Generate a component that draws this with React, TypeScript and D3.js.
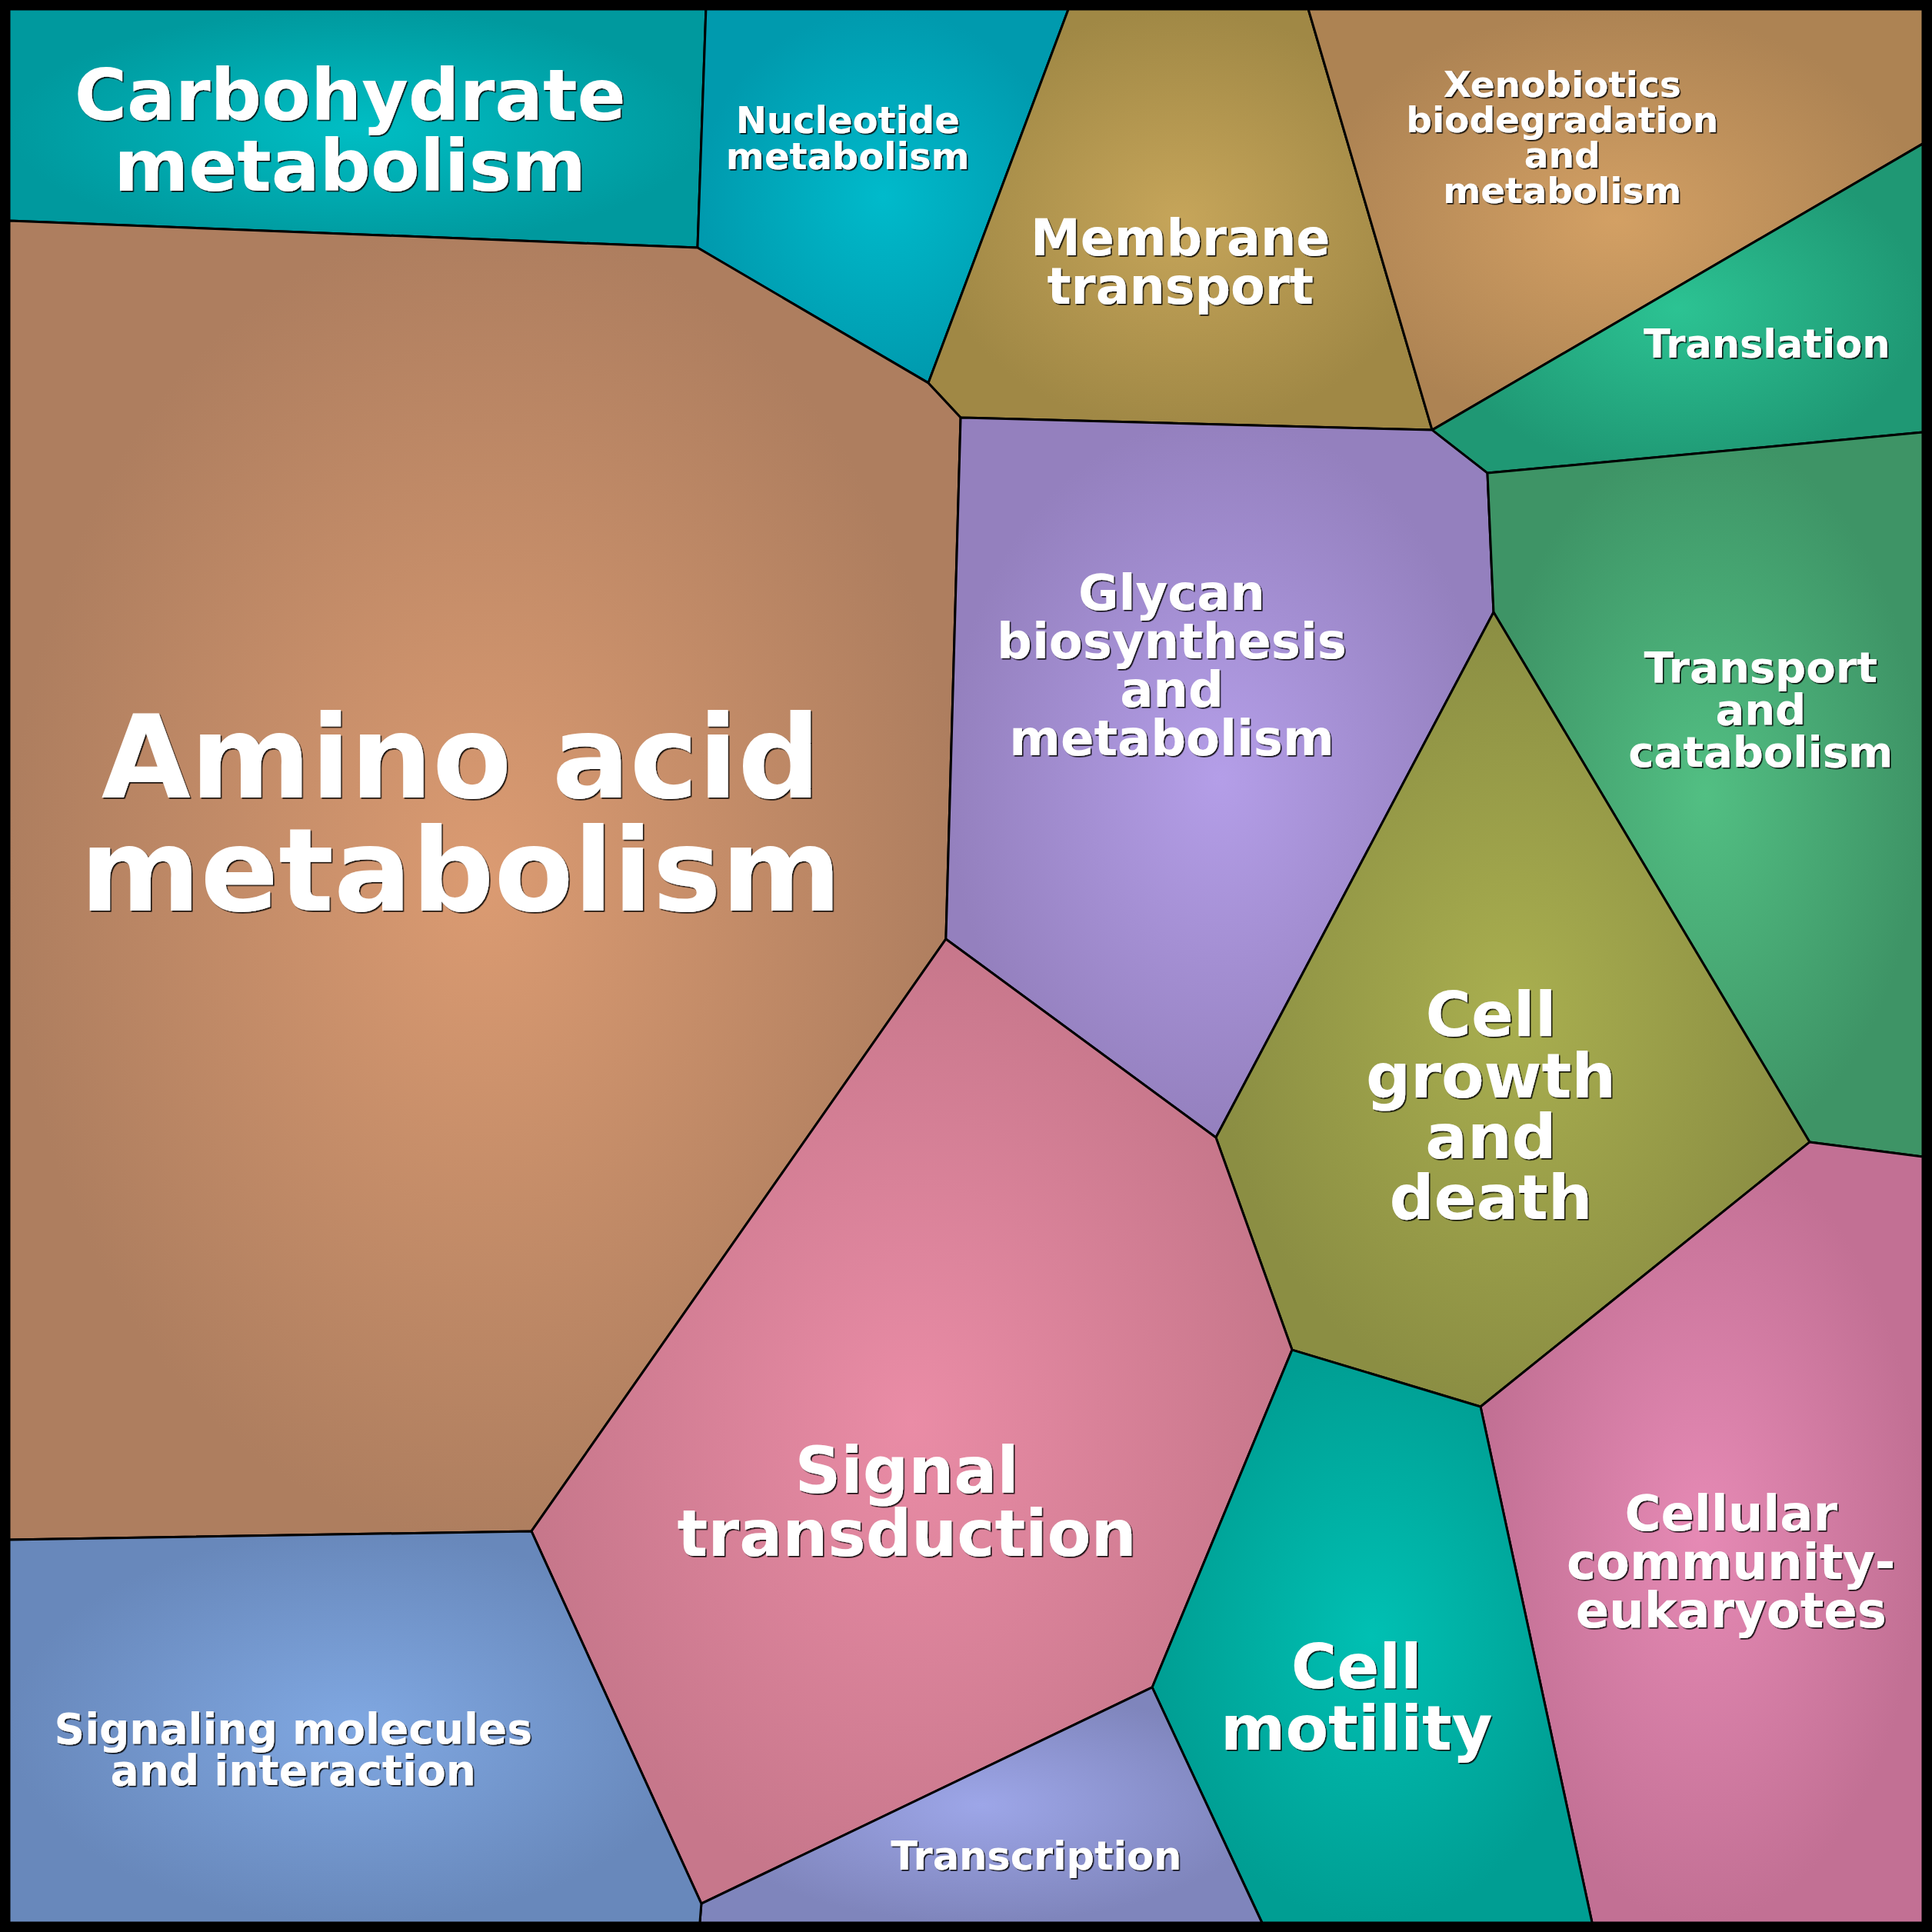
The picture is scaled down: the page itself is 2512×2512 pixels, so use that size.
import React from "react";
import * as d3 from "d3";

// ---------- DATA ----------
const categories = [
  "Carbohydrate metabolism",
  "Nucleotide metabolism",
  "Membrane transport",
  "Xenobiotics biodegradation and metabolism",
  "Translation",
  "Amino acid metabolism",
  "Glycan biosynthesis and metabolism",
  "Transport and catabolism",
  "Cell growth and death",
  "Signal transduction",
  "Cellular community-eukaryotes",
  "Cell motility",
  "Transcription",
  "Signaling molecules and interaction",
];

const labelLines: string[][] = [
  ["Carbohydrate", "metabolism"],
  ["Nucleotide", "metabolism"],
  ["Membrane", "transport"],
  ["Xenobiotics", "biodegradation", "and", "metabolism"],
  ["Translation"],
  ["Amino acid", "metabolism"],
  ["Glycan", "biosynthesis", "and", "metabolism"],
  ["Transport", "and", "catabolism"],
  ["Cell", "growth", "and", "death"],
  ["Signal", "transduction"],
  ["Cellular", "community-", "eukaryotes"],
  ["Cell", "motility"],
  ["Transcription"],
  ["Signaling molecules", "and interaction"],
];

// generator sites of the Voronoi cells, layout units (0..1000 on both axes)
const siteX = [178.1, 438.2, 612.0, 811.6, 918.5, 236.0, 607.5, 915.3, 774.3, 469.1, 899.8, 704.1, 536.7, 148.4];
const siteY = [62.9, 67.4, 131.9, 66.6, 174.8, 420.0, 342.6, 365.7, 572.8, 779.8, 811.1, 881.8, 964.7, 909.3];

// shared tessellation vertices, layout units (0..1000 on both axes)
const vertexIds = ["TL", "TR", "BR", "BL", "A", "B", "C", "D", "E", "F", "G", "H", "I", "J", "K", "L", "M", "N", "O", "P", "Q", "R", "S", "T", "U", "V", "W", "X", "Y"];
const vertexX = [0, 1000, 1000, 0, 364.1, 359.7, 0, 553.5, 480.3, 497.2, 678.9, 743.6, 1000, 772.5, 1000, 775.7, 489.5, 630.6, 940.9, 1000, 670.4, 768.9, 272.9, 0, 597.3, 361.7, 360.9, 654.7, 827.2];
const vertexY = [0, 0, 1000, 1000, 0, 124.6, 110.5, 0, 195.3, 213.4, 0, 219.9, 70.3, 242.4, 221.1, 315.1, 485.9, 589.6, 592.0, 599.7, 700.6, 730.3, 795.4, 799.8, 877.0, 990.0, 1000, 1000, 1000];

const cellVertices: string[][] = [
  ["TL", "A", "B", "C"],
  ["A", "D", "E", "B"],
  ["D", "G", "H", "F", "E"],
  ["G", "TR", "I", "H"],
  ["H", "I", "K", "J"],
  ["C", "B", "E", "F", "M", "S", "T"],
  ["F", "H", "J", "L", "N", "M"],
  ["J", "K", "P", "O", "L"],
  ["L", "O", "R", "Q", "N"],
  ["M", "N", "Q", "U", "V", "S"],
  ["O", "P", "BR", "Y", "R"],
  ["Q", "R", "Y", "X", "U"],
  ["V", "U", "X", "W"],
  ["T", "S", "V", "W", "BL"],
];

// ---------- STYLE ----------
const centerColors = ["#00BEC4", "#00BACB", "#C6A55A", "#D3A064", "#2CC393", "#DB9B72", "#B49EE8", "#52BF83", "#A9AF4F", "#EA8CA6", "#E68AB5", "#00C0B3", "#9DA6E8", "#80A8E2"];
const edgeColors = ["#00999E", "#009AAE", "#A08845", "#AD8353", "#1F9874", "#AE7E5F", "#9480BE", "#3E9466", "#8B8E43", "#C7778B", "#C27094", "#009E93", "#7F85BC", "#6888BB"];
const fontSizes = [93, 48, 65, 47, 51, 150, 64, 56, 81, 83, 64, 81, 51, 55];

const SIZE = 2512;
const BORDER = 12;

export default function App() {
  const xs = d3.scaleLinear().domain([0, 1000]).range([BORDER, SIZE - BORDER]);
  const ys = d3.scaleLinear().domain([0, 1000]).range([BORDER, SIZE - BORDER]);
  const vmap = new Map<string, [number, number]>();
  vertexIds.forEach((id, i) => vmap.set(id, [xs(vertexX[i]), ys(vertexY[i])]));

  const cells = categories.map((name, i) => {
    const pts = cellVertices[i].map((id) => vmap.get(id)!) as [number, number][];
    const c: [number, number] = [xs(siteX[i]), ys(siteY[i])];
    return { name, pts, c, i };
  });
  const line = d3.line().curve(d3.curveLinearClosed);

  return (
    <svg width={SIZE} height={SIZE} style={{ display: "block", position: "absolute", left: 0, top: 0 }}>
      <defs>
        {cells.map((d) => (
          <radialGradient key={d.i} id={`g${d.i}`} cx="50%" cy="50%" r="50%">
            <stop offset="0%" stopColor={centerColors[d.i]} />
            <stop offset="100%" stopColor={edgeColors[d.i]} />
          </radialGradient>
        ))}
        <filter id="shadow" x="-5%" y="-5%" width="110%" height="110%">
          <feDropShadow dx={1.6} dy={1.6} stdDeviation={0.4} floodColor="#000" floodOpacity={0.9} />
        </filter>
      </defs>
      <rect x={0} y={0} width={SIZE} height={SIZE} fill="#000" />
      {cells.map((d) => (
        <path key={d.i} d={line(d.pts) || ""} fill={`url(#g${d.i})`} stroke="#000" strokeWidth={3} strokeLinejoin="round" />
      ))}
      {cells.map((d) => {
        const fs = fontSizes[d.i];
        const lines = labelLines[d.i];
        const lh = fs * 0.98;
        const y0 = d.c[1] - ((lines.length - 1) / 2) * lh + fs * 0.36;
        return (
          <text
            key={`t${d.i}`}
            textAnchor="middle"
            fontFamily="DejaVu Sans"
            fontWeight="bold"
            fontSize={fs}
            fill="#fff"
            filter="url(#shadow)"
          >
            {lines.map((t, k) => (
              <tspan key={k} x={d.c[0]} y={y0 + k * lh}>
                {t}
              </tspan>
            ))}
          </text>
        );
      })}
    </svg>
  );
}
